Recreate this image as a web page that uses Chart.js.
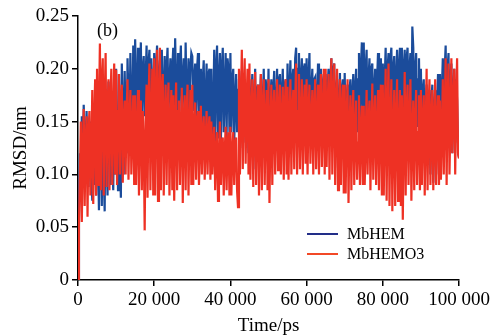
<!DOCTYPE html>
<html>
<head>
<meta charset="utf-8">
<script src="https://cdn.jsdelivr.net/npm/chart.js@4.4.1/dist/chart.umd.min.js"></script>
<style>
  html, body { margin: 0; padding: 0; background: #fff; }
  #wrap { width: 494px; height: 336px; }
</style>
</head>
<body>
<div id="wrap"><canvas id="rmsdChart" width="494" height="336"></canvas></div>
<script>
const timeStep = 250;
const seriesNames = ["MbHEM", "MbHEMO3"];

const mbHEM = [
  0, 0.06, 0.12, 0.1, 0.155, 0.11, 0.166, 0.13, 0.095, 0.16, 0.12, 0.088, 0.145, 0.15, 0.1, 0.075, 0.14, 0.09, 0.16, 0.08,
  0.17, 0.12, 0.066, 0.185, 0.14, 0.07, 0.19, 0.1, 0.065, 0.175, 0.13, 0.08, 0.188, 0.15, 0.09, 0.17, 0.11, 0.085, 0.18, 0.1,
  0.2, 0.14, 0.085, 0.195, 0.12, 0.078, 0.205, 0.16, 0.1, 0.198, 0.15, 0.12, 0.21, 0.17, 0.14, 0.215, 0.16, 0.13, 0.222, 0.15,
  0.228, 0.18, 0.15, 0.22, 0.16, 0.19, 0.225, 0.145, 0.2, 0.212, 0.155, 0.19, 0.222, 0.14, 0.205, 0.218, 0.15, 0.21, 0.175, 0.145,
  0.215, 0.15, 0.2, 0.222, 0.16, 0.19, 0.208, 0.145, 0.218, 0.17, 0.155, 0.212, 0.15, 0.2, 0.22, 0.16, 0.185, 0.21, 0.15, 0.2,
  0.22, 0.16, 0.229, 0.18, 0.15, 0.215, 0.155, 0.2, 0.222, 0.16, 0.19, 0.21, 0.15, 0.225, 0.17, 0.16, 0.21, 0.155, 0.2, 0.215,
  0.212, 0.16, 0.19, 0.205, 0.15, 0.2, 0.215, 0.155, 0.18, 0.2, 0.14, 0.19, 0.208, 0.13, 0.17, 0.205, 0.14, 0.195, 0.2, 0.12,
  0.2, 0.107, 0.16, 0.218, 0.13, 0.2, 0.222, 0.135, 0.19, 0.215, 0.128, 0.2, 0.22, 0.14, 0.18, 0.215, 0.135, 0.21, 0.2, 0.14,
  0.215, 0.14, 0.19, 0.2, 0.13, 0.17, 0.195, 0.14, 0.18, 0.19, 0.13, 0.175, 0.198, 0.125, 0.16, 0.19, 0.13, 0.185, 0.17, 0.12,
  0.19, 0.12, 0.17, 0.195, 0.105, 0.16, 0.2, 0.12, 0.18, 0.185, 0.13, 0.17, 0.195, 0.14, 0.16, 0.2, 0.13, 0.19, 0.18, 0.14,
  0.2, 0.13, 0.17, 0.19, 0.14, 0.18, 0.198, 0.13, 0.16, 0.2, 0.135, 0.19, 0.195, 0.14, 0.175, 0.2, 0.13, 0.185, 0.19, 0.14,
  0.205, 0.13, 0.18, 0.208, 0.14, 0.19, 0.2, 0.135, 0.21, 0.22, 0.13, 0.2, 0.215, 0.14, 0.19, 0.21, 0.13, 0.2, 0.205, 0.14,
  0.21, 0.135, 0.19, 0.215, 0.13, 0.18, 0.2, 0.14, 0.19, 0.192, 0.13, 0.17, 0.205, 0.135, 0.19, 0.2, 0.13, 0.185, 0.195, 0.14,
  0.195, 0.13, 0.18, 0.2, 0.14, 0.19, 0.21, 0.13, 0.2, 0.205, 0.14, 0.18, 0.19, 0.107, 0.17, 0.196, 0.11, 0.18, 0.19, 0.13,
  0.196, 0.135, 0.17, 0.185, 0.13, 0.18, 0.19, 0.14, 0.175, 0.195, 0.13, 0.18, 0.2, 0.14, 0.19, 0.215, 0.14, 0.2, 0.225, 0.15,
  0.225, 0.145, 0.2, 0.218, 0.14, 0.19, 0.21, 0.15, 0.2, 0.205, 0.14, 0.18, 0.2, 0.145, 0.19, 0.215, 0.14, 0.2, 0.21, 0.145,
  0.205, 0.14, 0.19, 0.22, 0.15, 0.2, 0.215, 0.145, 0.21, 0.22, 0.15, 0.2, 0.212, 0.14, 0.19, 0.218, 0.15, 0.2, 0.22, 0.145,
  0.22, 0.15, 0.2, 0.218, 0.14, 0.21, 0.22, 0.15, 0.2, 0.215, 0.145, 0.24, 0.22, 0.14, 0.2, 0.215, 0.145, 0.19, 0.21, 0.14,
  0.2, 0.13, 0.18, 0.19, 0.12, 0.17, 0.185, 0.13, 0.16, 0.18, 0.1, 0.17, 0.185, 0.092, 0.16, 0.18, 0.1, 0.17, 0.195, 0.13,
  0.195, 0.13, 0.18, 0.21, 0.14, 0.2, 0.222, 0.14, 0.2, 0.215, 0.13, 0.19, 0.205, 0.12, 0.18, 0.2, 0.13, 0.19, 0.17, 0.12,
  0.116
];

const mbHEMO3 = [
  0, 0.052, 0.1, 0.15, 0.055, 0.12, 0.162, 0.07, 0.13, 0.155, 0.06, 0.14, 0.16, 0.08, 0.12, 0.18, 0.072, 0.15, 0.19, 0.08,
  0.2, 0.09, 0.16, 0.224, 0.085, 0.19, 0.21, 0.08, 0.17, 0.215, 0.088, 0.16, 0.19, 0.085, 0.17, 0.2, 0.09, 0.15, 0.205, 0.1,
  0.199, 0.09, 0.16, 0.195, 0.1, 0.17, 0.185, 0.092, 0.15, 0.17, 0.1, 0.16, 0.19, 0.095, 0.15, 0.18, 0.1, 0.14, 0.175, 0.09,
  0.175, 0.09, 0.14, 0.18, 0.08, 0.15, 0.17, 0.085, 0.16, 0.13, 0.047, 0.15, 0.185, 0.078, 0.17, 0.205, 0.085, 0.15, 0.2, 0.08,
  0.21, 0.08, 0.17, 0.218, 0.075, 0.16, 0.22, 0.085, 0.18, 0.195, 0.08, 0.15, 0.185, 0.09, 0.16, 0.187, 0.08, 0.14, 0.18, 0.085,
  0.175, 0.075, 0.15, 0.187, 0.085, 0.16, 0.17, 0.09, 0.14, 0.182, 0.073, 0.15, 0.175, 0.085, 0.16, 0.185, 0.08, 0.14, 0.18, 0.09,
  0.185, 0.09, 0.14, 0.168, 0.095, 0.15, 0.16, 0.09, 0.13, 0.165, 0.1, 0.14, 0.155, 0.095, 0.13, 0.16, 0.1, 0.14, 0.155, 0.095,
  0.15, 0.1, 0.13, 0.145, 0.085, 0.12, 0.14, 0.075, 0.11, 0.15, 0.09, 0.13, 0.135, 0.08, 0.12, 0.145, 0.085, 0.13, 0.14, 0.08,
  0.145, 0.08, 0.12, 0.14, 0.09, 0.13, 0.135, 0.085, 0.069, 0.2, 0.1, 0.17, 0.218, 0.105, 0.18, 0.21, 0.11, 0.17, 0.2, 0.1,
  0.205, 0.095, 0.15, 0.19, 0.088, 0.16, 0.197, 0.09, 0.15, 0.185, 0.08, 0.14, 0.195, 0.085, 0.16, 0.19, 0.09, 0.15, 0.18, 0.085,
  0.19, 0.073, 0.14, 0.185, 0.09, 0.16, 0.18, 0.1, 0.15, 0.19, 0.104, 0.16, 0.185, 0.1, 0.15, 0.183, 0.095, 0.16, 0.19, 0.1,
  0.183, 0.095, 0.15, 0.19, 0.1, 0.16, 0.18, 0.105, 0.17, 0.205, 0.1, 0.16, 0.195, 0.105, 0.15, 0.19, 0.1, 0.16, 0.185, 0.11,
  0.19, 0.1, 0.16, 0.185, 0.11, 0.15, 0.18, 0.1, 0.16, 0.19, 0.105, 0.15, 0.185, 0.1, 0.16, 0.195, 0.107, 0.15, 0.2, 0.1,
  0.2, 0.107, 0.16, 0.195, 0.095, 0.17, 0.21, 0.1, 0.17, 0.205, 0.09, 0.16, 0.2, 0.085, 0.15, 0.19, 0.09, 0.16, 0.185, 0.082,
  0.185, 0.082, 0.15, 0.19, 0.073, 0.14, 0.175, 0.085, 0.15, 0.18, 0.09, 0.14, 0.17, 0.095, 0.13, 0.175, 0.09, 0.14, 0.165, 0.09,
  0.165, 0.09, 0.13, 0.18, 0.1, 0.15, 0.17, 0.085, 0.14, 0.186, 0.095, 0.15, 0.175, 0.09, 0.14, 0.18, 0.085, 0.15, 0.185, 0.08,
  0.185, 0.08, 0.15, 0.2, 0.075, 0.16, 0.205, 0.07, 0.15, 0.19, 0.065, 0.14, 0.18, 0.07, 0.15, 0.19, 0.075, 0.14, 0.18, 0.07,
  0.175, 0.057, 0.14, 0.197, 0.08, 0.16, 0.185, 0.09, 0.15, 0.19, 0.075, 0.14, 0.17, 0.085, 0.15, 0.18, 0.09, 0.14, 0.175, 0.085,
  0.18, 0.09, 0.15, 0.175, 0.08, 0.14, 0.2, 0.085, 0.16, 0.19, 0.09, 0.15, 0.18, 0.085, 0.14, 0.19, 0.09, 0.15, 0.175, 0.09,
  0.17, 0.095, 0.14, 0.19, 0.1, 0.16, 0.21, 0.09, 0.17, 0.205, 0.1, 0.15, 0.21, 0.12, 0.16, 0.2, 0.1, 0.17, 0.21, 0.12,
  0.115
];

const lineColors = ["#1b4c9b", "#ee3124"];
const legendColors = ["#222e88", "#f24826"];
const serif = "'Liberation Serif', 'DejaVu Serif', serif";

function toPoints(values) {
  return values.map(function(v, i) { return { x: i * timeStep, y: v }; });
}

function spaced(v) {
  return String(v).replace(/\B(?=(\d{3})+(?!\d))/g, " ");
}

// legend box inside the plot + panel label "(b)"
const extras = {
  id: "extras",
  afterDraw: function(chart) {
    const ctx = chart.ctx;
    ctx.save();
    ctx.textBaseline = "middle";
    ctx.fillStyle = "#000";
    ctx.font = "18px " + serif;
    ctx.textAlign = "left";
    ctx.fillText("(b)", 97, 31);

    ctx.font = "16px " + serif;
    const rows = [234, 254];
    for (let i = 0; i < seriesNames.length; i++) {
      ctx.strokeStyle = legendColors[i];
      ctx.lineWidth = 2;
      ctx.beginPath();
      ctx.moveTo(307, rows[i]);
      ctx.lineTo(338, rows[i]);
      ctx.stroke();
      ctx.fillStyle = "#000";
      ctx.fillText(seriesNames[i], 347, rows[i] + 1);
    }
    ctx.restore();
  }
};

new Chart(document.getElementById("rmsdChart"), {
  type: "line",
  data: {
    datasets: [
      { label: seriesNames[0], data: toPoints(mbHEM), borderColor: lineColors[0], borderWidth: 2.2, pointRadius: 0, tension: 0, order: 1 },
      { label: seriesNames[1], data: toPoints(mbHEMO3), borderColor: lineColors[1], borderWidth: 2.2, pointRadius: 0, tension: 0, order: 0 }
    ]
  },
  options: {
    responsive: false,
    animation: false,
    layout: { padding: { top: 16, right: 35, left: 0, bottom: 0 } },
    plugins: { legend: { display: false }, tooltip: { enabled: false } },
    scales: {
      x: {
        type: "linear",
        min: 0,
        max: 100000,
        afterFit: function(s) { s.height = 56; },
        ticks: { stepSize: 20000, color: "#000", padding: 3, maxRotation: 0, font: { family: serif, size: 19 }, callback: function(v) { return spaced(v); } },
        grid: { display: true, drawOnChartArea: false, drawTicks: true, tickLength: 6, color: "#000", lineWidth: 1.5 },
        border: { display: true, color: "#000", width: 1.5 },
        title: { display: true, text: "Time/ps", color: "#000", padding: 0, font: { family: serif, size: 19, lineHeight: 1 } }
      },
      y: {
        min: 0,
        max: 0.25,
        afterFit: function(s) { s.width = 78; },
        ticks: { stepSize: 0.05, color: "#000", padding: 3, font: { family: serif, size: 19 }, callback: function(v) { return v === 0 ? "0" : v.toFixed(2); } },
        grid: { display: true, drawOnChartArea: false, drawTicks: true, tickLength: 6, color: "#000", lineWidth: 1.5 },
        border: { display: true, color: "#000", width: 1.5 },
        title: { display: true, text: "RMSD/nm", color: "#000", padding: { top: 12, bottom: 0 }, font: { family: serif, size: 19, lineHeight: 1 } }
      }
    }
  },
  plugins: [extras]
});
</script>
</body>
</html>
